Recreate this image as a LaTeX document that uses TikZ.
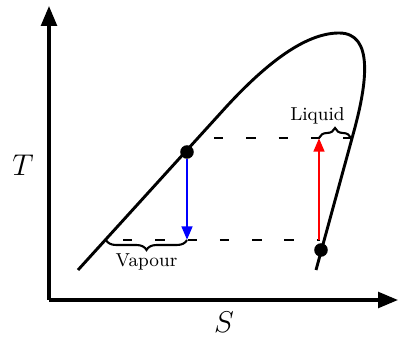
\documentclass[tikz,border=0pt]{standalone}
\usetikzlibrary{arrows.meta,decorations.pathreplacing}
\begin{document}
\begin{tikzpicture}[x=0.48pt,y=0.48pt,
  curveline/.style={line width=1.4pt},
  axisline/.style={line width=1.5pt,-{Triangle[length=9.5pt,width=7.5pt]}},
  levelline/.style={line width=1.4pt,dash pattern=on 4.5pt off 11pt},
  flowarrow/.style={line width=1.4pt,-{Triangle[length=6.5pt,width=5pt]}},
  dot/.style={circle,fill,inner sep=0pt,minimum size=6.5pt},
  bracemark/.style={decorate,decoration={brace,amplitude=4.8pt},line width=1pt}]

\useasboundingbox (-49,-37) rectangle (349,300);

% Define dimensions
\def\lowlevel{60}
\def\highlevel{162}

% Draw axes
\coordinate (origin) at (0,0);
\coordinate (ytop) at (0,294);
\coordinate (xend) at (349,0);
\draw[axisline] (origin) -- (ytop);
\draw[axisline] (origin) -- (xend);
\node (tlabel) at (-26,135) {\Large $T$};
\node (slabel) at (175,-22) {\Large $S$};

% Draw saturation curve
\draw[curveline] (29,30) -- (178,194) .. controls (215,234) and (255,267) .. (290,267)
  .. controls (325,267) and (318,217) .. (305,169) -- (267,30);

% State points
\node[dot] (hot) at (138,148) {};
\node[dot] (cold) at (272,50) {};

% Add horizontal dashed lines
\coordinate (highstart) at (165,\highlevel);
\coordinate (highend) at (302,\highlevel);
\coordinate (lowstart) at (74,\lowlevel);
\coordinate (lowend) at (271,\lowlevel);
\draw[levelline] (highstart) -- (highend);
\draw[levelline] (lowstart) -- (lowend);

% Draw process arrows
\coordinate (hotlow) at (138,\lowlevel);
\coordinate (coldlow) at (270,\lowlevel);
\coordinate (coldhigh) at (270,\highlevel);
\draw[flowarrow,blue] (hot) -- (hotlow);
\draw[flowarrow,red] (coldlow) -- (coldhigh);

% Draw braces and labels
\coordinate (vapstart) at (57,\lowlevel);
\draw[bracemark,decoration={mirror}] (vapstart) -- (hotlow)
  node[midway,yshift=-10.5pt] (vapour) {\small Vapour};
\draw[bracemark] (coldhigh) -- (highend)
  node[midway,xshift=-8.4pt,yshift=10.5pt] (liquid) {\small Liquid};
\end{tikzpicture}
\end{document}
